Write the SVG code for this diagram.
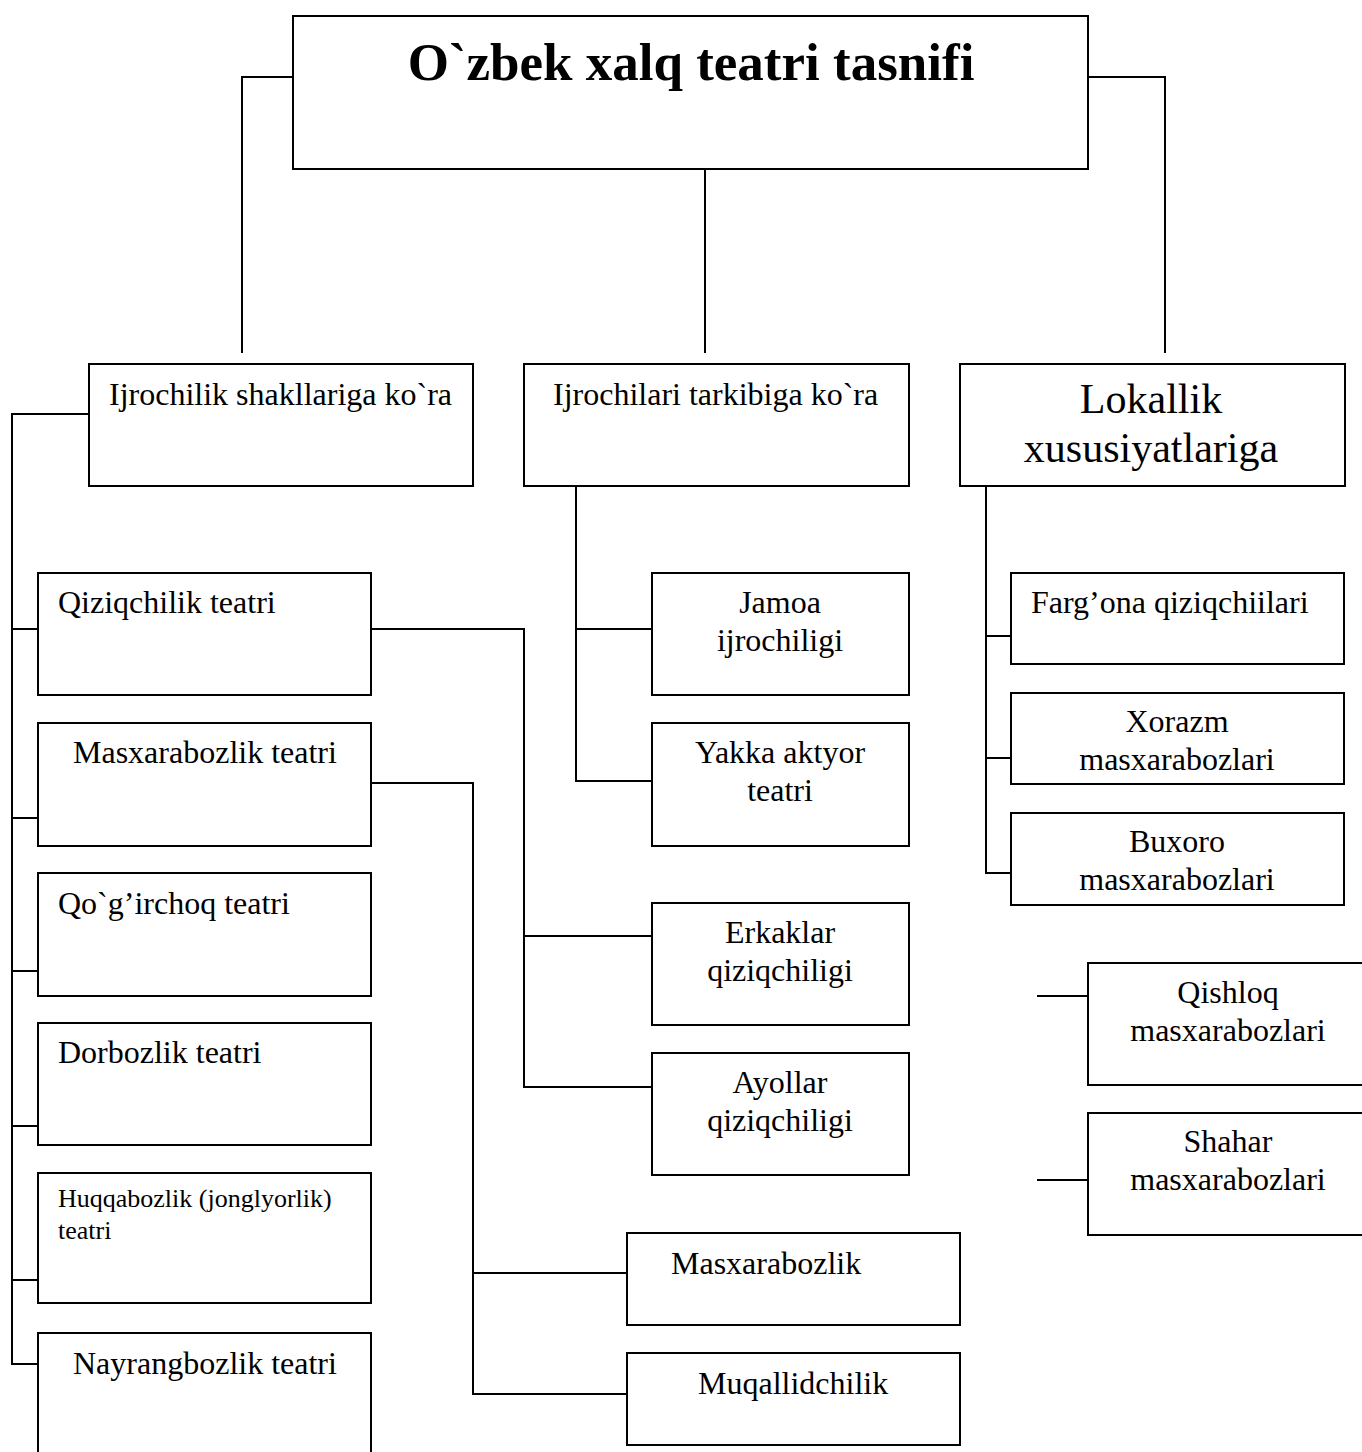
<svg xmlns="http://www.w3.org/2000/svg" width="1362" height="1452" viewBox="0 0 1362 1452">
<style>
rect{fill:#fff;stroke:#000;stroke-width:2}
.c path{fill:none;stroke:#000;stroke-width:2}
text{font-family:"Liberation Serif","Times New Roman",serif;font-size:32px;fill:#000}
.m{text-anchor:middle}
.t{font-size:53px;font-weight:bold}
.l{font-size:42px}
.s{font-size:26px}
</style>
<rect width="1362" height="1452" style="stroke:none"/>
<g class="c" id="connectors">
<path d="M293,77H242V353"/>
<path d="M705,169V353"/>
<path d="M1088,77H1165V353"/>
<path d="M89,414H12V1364H38"/>
<path d="M12,629H38M12,818H38M12,971H38M12,1126H38M12,1280H38"/>
<path d="M371,629H524V1087H652M524,936H652"/>
<path d="M371,783H473V1394H627M473,1273H627"/>
<path d="M576,476V781H652M576,629H652"/>
<path d="M986,476V873H1011M986,636H1011M986,758H1011"/>
<path d="M1037,996H1088M1037,1180H1088"/>
</g>
<g id="title"><rect x="293" y="16" width="795" height="153"/><text class="t m" x="691" y="80">O`zbek xalq teatri tasnifi</text></g>
<g id="n-ijrochilik"><rect x="89" y="364" width="384" height="122"/><text x="109" y="405">Ijrochilik shakllariga ko`ra</text></g>
<g id="n-tarkib"><rect x="524" y="364" width="385" height="122"/><text x="553" y="405">Ijrochilari tarkibiga ko`ra</text></g>
<g id="n-lokal"><rect x="960" y="364" width="385" height="122"/><text class="l m" x="1151" y="413">Lokallik</text><text class="l m" x="1151" y="462">xususiyatlariga</text></g>
<g id="n-qiziq"><rect x="38" y="573" width="333" height="122"/><text x="58" y="613">Qiziqchilik teatri</text></g>
<g id="n-masx"><rect x="38" y="723" width="333" height="123"/><text x="73" y="763">Masxarabozlik teatri</text></g>
<g id="n-qogir"><rect x="38" y="873" width="333" height="123"/><text x="58" y="914">Qo`g’irchoq teatri</text></g>
<g id="n-dor"><rect x="38" y="1023" width="333" height="122"/><text x="58" y="1063">Dorbozlik teatri</text></g>
<g id="n-huqqa"><rect x="38" y="1173" width="333" height="130"/><text class="s" x="58" y="1207">Huqqabozlik (jonglyorlik)</text><text class="s" x="58" y="1239">teatri</text></g>
<g id="n-nayrang"><rect x="38" y="1333" width="333" height="130"/><text x="73" y="1374">Nayrangbozlik teatri</text></g>
<g id="n-jamoa"><rect x="652" y="573" width="257" height="122"/><text class="m" x="780" y="613">Jamoa</text><text class="m" x="780" y="651">ijrochiligi</text></g>
<g id="n-yakka"><rect x="652" y="723" width="257" height="123"/><text class="m" x="780" y="763">Yakka aktyor</text><text class="m" x="780" y="801">teatri</text></g>
<g id="n-erkak"><rect x="652" y="903" width="257" height="122"/><text class="m" x="780" y="943">Erkaklar</text><text class="m" x="780" y="981">qiziqchiligi</text></g>
<g id="n-ayol"><rect x="652" y="1053" width="257" height="122"/><text class="m" x="780" y="1093">Ayollar</text><text class="m" x="780" y="1131">qiziqchiligi</text></g>
<g id="n-masxarabozlik"><rect x="627" y="1233" width="333" height="92"/><text x="671" y="1274">Masxarabozlik</text></g>
<g id="n-muqallid"><rect x="627" y="1353" width="333" height="92"/><text x="698" y="1394">Muqallidchilik</text></g>
<g id="n-fargona"><rect x="1011" y="573" width="333" height="91"/><text x="1031" y="613">Farg’ona qiziqchiilari</text></g>
<g id="n-xorazm"><rect x="1011" y="693" width="333" height="91"/><text class="m" x="1177" y="732">Xorazm</text><text class="m" x="1177" y="770">masxarabozlari</text></g>
<g id="n-buxoro"><rect x="1011" y="813" width="333" height="92"/><text class="m" x="1177" y="852">Buxoro</text><text class="m" x="1177" y="890">masxarabozlari</text></g>
<g id="n-qishloq"><rect x="1088" y="963" width="300" height="122"/><text class="m" x="1228" y="1003">Qishloq</text><text class="m" x="1228" y="1041">masxarabozlari</text></g>
<g id="n-shahar"><rect x="1088" y="1113" width="300" height="122"/><text class="m" x="1228" y="1152">Shahar</text><text class="m" x="1228" y="1190">masxarabozlari</text></g>
</svg>
